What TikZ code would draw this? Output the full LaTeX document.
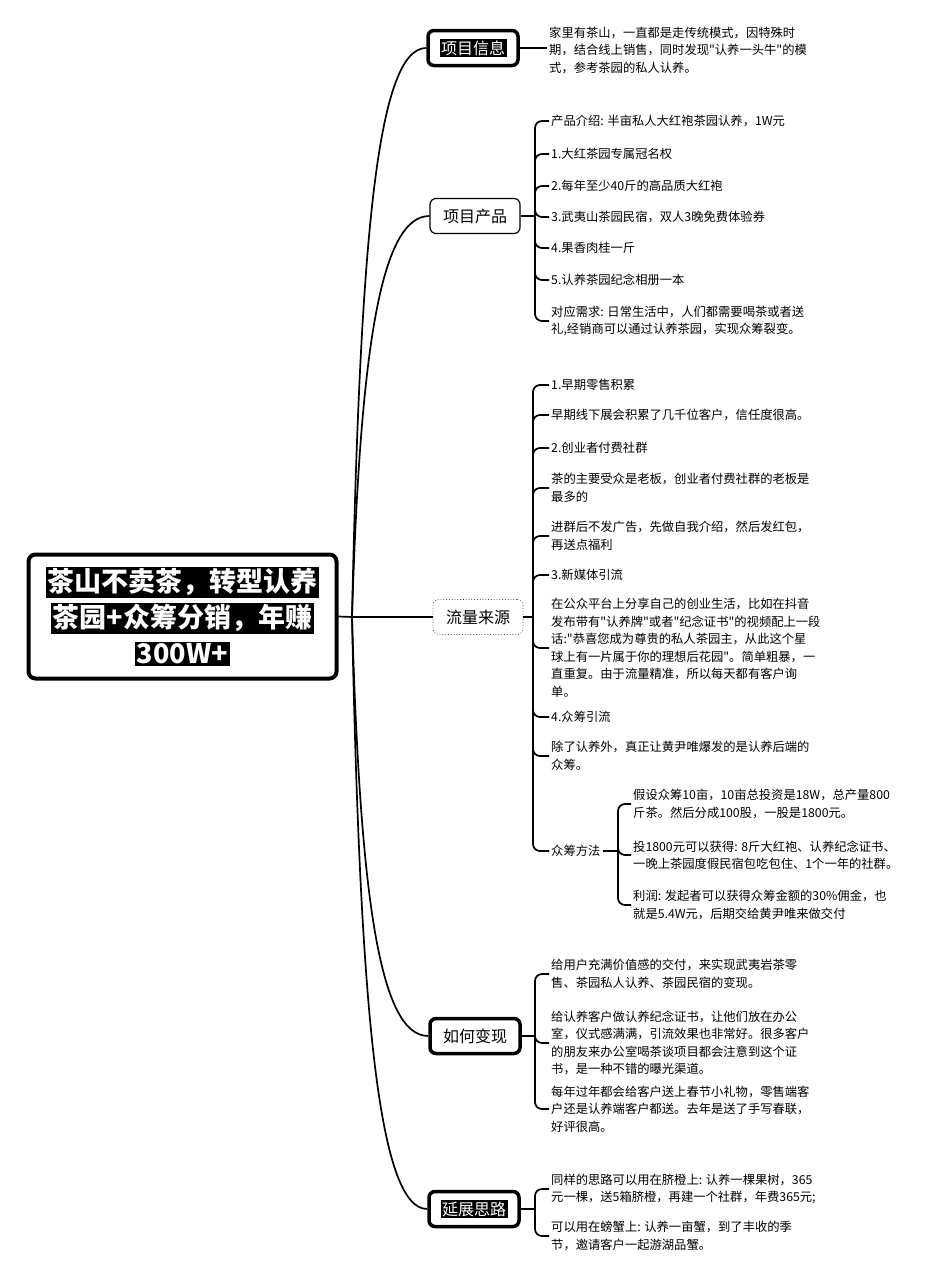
\documentclass[tikz,border=0pt]{standalone}
\usepackage{fontspec}
\setmainfont{Noto Sans CJK SC}[Ligatures=TeXOff]
\newcommand\blkhl[1]{{\setlength{\fboxsep}{1.5pt}\colorbox{black}{\textcolor{white}{#1}}}}
\begin{document}
\begin{tikzpicture}[x=1pt,y=-1pt,
  conn/.style={line width=1.7pt, black},
  brace/.style={conn, rounded corners=7pt},
  root/.style={draw, line width=4pt, rounded corners=7pt, minimum width=308pt, minimum height=124pt, align=center, font=\fontsize{27}{38}\selectfont\bfseries},
  topic/.style={draw, rounded corners=6pt, minimum width=90pt, minimum height=35pt, inner sep=2pt, font=\fontsize{16}{19}\selectfont},
  topicthick/.style={topic, line width=3.5pt},
  topicthin/.style={topic, line width=1.2pt},
  topicfaint/.style={topic, line width=0.8pt, dotted, draw=black!70},
  leaf/.style={anchor=west, align=left, inner xsep=2pt, inner ysep=1pt, font=\fontsize{12.3}{17.5}\selectfont}
]
\useasboundingbox (0,0) rectangle (940,1280);

% root
\node[root] (root) at (182.5,616.5) {\blkhl{茶山不卖茶，转型认养}\\[-2pt]\blkhl{茶园+众筹分销，年赚}\\[-2pt]\blkhl{300W+}};
\coordinate (H) at (352,617);
\draw[conn] (root.east) -- (H);

% level-1 topics
\node[topicthick] (n1) at (473,48) {\blkhl{项目信息}};
\node[topicthin] (n2) at (475,216) {项目产品};
\node[topicfaint] (n3) at (478,617) {流量来源};
\node[topicthick] (n4) at (475,1036) {如何变现};
\node[topicthick] (n5) at (474,1209) {\blkhl{延展思路}};

\draw[conn] (H) .. controls +(8,-369) and +(-50,0) .. (n1.west);
\draw[conn] (H) .. controls +(8,-260) and +(-50,0) .. (n2.west);
\draw[conn] (H) -- (n3.west);
\draw[conn] (H) .. controls +(8,272) and +(-50,0) .. (n4.west);
\draw[conn] (H) .. controls +(8,384) and +(-50,0) .. (n5.west);

% 项目信息
\node[leaf] (i1) at (547,50) {家里有茶山，一直都是走传统模式，因特殊时\\期，结合线上销售，同时发现"认养一头牛"的模\\式，参考茶园的私人认养。};
\draw[conn] (n1.east) -- (i1.west |- n1.east);

% 项目产品
\coordinate (h2) at (535,216);
\draw[conn] (n2.east) -- (h2);
\node[leaf] (p0) at (549,121) {产品介绍: 半亩私人大红袍茶园认养，1W元};
\node[leaf] (p1) at (549,154) {1.大红茶园专属冠名权};
\node[leaf] (p2) at (549,186) {2.每年至少40斤的高品质大红袍};
\node[leaf] (p3) at (549,217) {3.武夷山茶园民宿，双人3晚免费体验券};
\node[leaf] (p4) at (549,248) {4.果香肉桂一斤};
\node[leaf] (p5) at (549,280) {5.认养茶园纪念相册一本};
\node[leaf] (p6) at (549,321) {对应需求: 日常生活中，人们都需要喝茶或者送\\礼,经销商可以通过认养茶园，实现众筹裂变。};
\foreach \n in {p0,p1,p2,p3,p4,p5,p6} \draw[brace] (h2) |- (\n.west);

% 流量来源
\coordinate (h3) at (533,617);
\draw[conn] (n3.east) -- (h3);
\node[leaf] (f1) at (549,385) {1.早期零售积累};
\node[leaf] (f2) at (549,415) {早期线下展会积累了几千位客户，信任度很高。};
\node[leaf] (f3) at (549,448) {2.创业者付费社群};
\node[leaf] (f4) at (549,488) {茶的主要受众是老板，创业者付费社群的老板是\\最多的};
\node[leaf] (f5) at (549,536) {进群后不发广告，先做自我介绍，然后发红包，\\再送点福利};
\node[leaf] (f6) at (549,575) {3.新媒体引流};
\node[leaf] (f7) at (549,648) {在公众平台上分享自己的创业生活，比如在抖音\\发布带有"认养牌"或者"纪念证书"的视频配上一段\\话:"恭喜您成为尊贵的私人茶园主，从此这个星\\球上有一片属于你的理想后花园"。简单粗暴，一\\直重复。由于流量精准，所以每天都有客户询\\单。};
\node[leaf] (f8) at (549,717) {4.众筹引流};
\node[leaf] (f9) at (549,756) {除了认养外，真正让黄尹唯爆发的是认养后端的\\众筹。};
\node[leaf] (f10) at (549,851) {众筹方法};
\foreach \n in {f1,f2,f3,f4,f5,f6,f7,f8,f9,f10} \draw[brace] (h3) |- (\n.west);

% 众筹方法
\coordinate (hc) at (618,851);
\draw[conn] (f10.east) -- (hc);
\node[leaf] (c1) at (631,804) {假设众筹10亩，10亩总投资是18W，总产量800\\斤茶。然后分成100股，一股是1800元。};
\node[leaf] (c2) at (631,855) {投1800元可以获得: 8斤大红袍、认养纪念证书、\\一晚上茶园度假民宿包吃包住、1个一年的社群。};
\node[leaf] (c3) at (631,905) {利润: 发起者可以获得众筹金额的30\%佣金，也\\就是5.4W元，后期交给黄尹唯来做交付};
\foreach \n in {c1,c2,c3} \draw[brace] (hc) |- (\n.west);

% 如何变现
\coordinate (h4) at (535,1036);
\draw[conn] (n4.east) -- (h4);
\node[leaf] (m1) at (549,974) {给用户充满价值感的交付，来实现武夷岩茶零\\售、茶园私人认养、茶园民宿的变现。};
\node[leaf] (m2) at (549,1043) {给认养客户做认养纪念证书，让他们放在办公\\室，仪式感满满，引流效果也非常好。很多客户\\的朋友来办公室喝茶谈项目都会注意到这个证\\书，是一种不错的曝光渠道。};
\node[leaf] (m3) at (549,1109) {每年过年都会给客户送上春节小礼物，零售端客\\户还是认养端客户都送。去年是送了手写春联，\\好评很高。};
\foreach \n in {m1,m2,m3} \draw[brace] (h4) |- (\n.west);

% 延展思路
\coordinate (h5) at (535,1209);
\draw[conn] (n5.east) -- (h5);
\node[leaf] (e1) at (549,1189) {同样的思路可以用在脐橙上: 认养一棵果树，365\\元一棵，送5箱脐橙，再建一个社群，年费365元;};
\node[leaf] (e2) at (549,1236) {可以用在螃蟹上: 认养一亩蟹，到了丰收的季\\节，邀请客户一起游湖品蟹。};
\foreach \n in {e1,e2} \draw[brace] (h5) |- (\n.west);
\end{tikzpicture}
\end{document}
